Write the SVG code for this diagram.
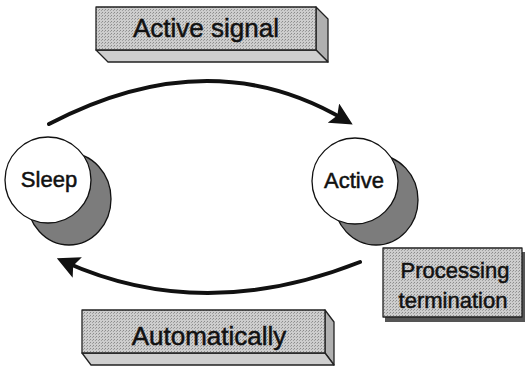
<svg xmlns="http://www.w3.org/2000/svg" width="527" height="368" viewBox="0 0 527 368">
<defs>
<style>
.face{fill:url(#stip);stroke:#222;stroke-width:1.3;stroke-linejoin:round}
.side{fill:#b0b0b0;stroke:#222;stroke-width:1.3;stroke-linejoin:round}
.bot{fill:#cfcfcf;stroke:#222;stroke-width:1.3;stroke-linejoin:round}
.lbl{font-family:"Liberation Sans",Arial,sans-serif;fill:#111;stroke:#111;stroke-width:0.5;text-anchor:middle}
.big{font-size:26px}
.mid{font-size:22px}
.circ{fill:#fff;stroke:#111;stroke-width:1.3}
.shad{fill:#7c7c7c;stroke:#111;stroke-width:1.3}
.arr{fill:none;stroke:#111;stroke-width:4;stroke-linecap:round}
</style>
<pattern id="stip" width="3" height="3" patternUnits="userSpaceOnUse">
<rect width="3" height="3" fill="#cdcdcd"/>
<rect x="0" y="0" width="1" height="1" fill="#8c8c8c"/>
<rect x="2" y="1" width="1" height="1" fill="#a0a0a0"/>
</pattern>
<marker id="ah" viewBox="0 0 10 10" refX="6" refY="5" markerWidth="5.6" markerHeight="5.6" orient="auto" markerUnits="strokeWidth">
<path d="M0,0 L10,5 L0,10 L2,5 Z" fill="#111"/>
</marker>
</defs>
<rect width="527" height="368" fill="#fff"/>
<g id="connectors">
<path class="arr" d="M49,124 Q210,40 345,120" marker-end="url(#ah)"/>
<path class="arr" d="M360,262 Q203,324 65,262" marker-end="url(#ah)"/>
</g>
<g id="active-signal">
<polygon class="side" points="316,7 328,19 328,62 316,50"/>
<polygon class="bot" points="96,50 316,50 328,62 108,62"/>
<rect class="face" x="96" y="7" width="220" height="43"/>
<text class="lbl big" x="206" y="37">Active signal</text>
</g>
<g id="sleep">
<ellipse class="shad" cx="69" cy="199" rx="42" ry="46"/>
<circle class="circ" cx="48" cy="180" r="43"/>
<text class="lbl mid" x="49" y="187">Sleep</text>
</g>
<g id="active">
<ellipse class="shad" cx="376" cy="200" rx="42" ry="45"/>
<circle class="circ" cx="355" cy="181" r="43"/>
<text class="lbl mid" x="354" y="188">Active</text>
</g>
<g id="processing-termination">
<rect x="385" y="252" width="140" height="70" fill="#555"/>
<rect class="face" x="383" y="248" width="139" height="69"/>
<text class="lbl mid" x="455" y="278">Processing</text>
<text class="lbl mid" x="453" y="308">termination</text>
</g>
<g id="automatically">
<polygon class="side" points="325,310 334,322 334,365 325,353"/>
<polygon class="bot" points="82,353 325,353 334,365 91,365"/>
<rect class="face" x="82" y="310" width="243" height="43"/>
<text class="lbl big" x="209" y="345">Automatically</text>
</g>
</svg>
